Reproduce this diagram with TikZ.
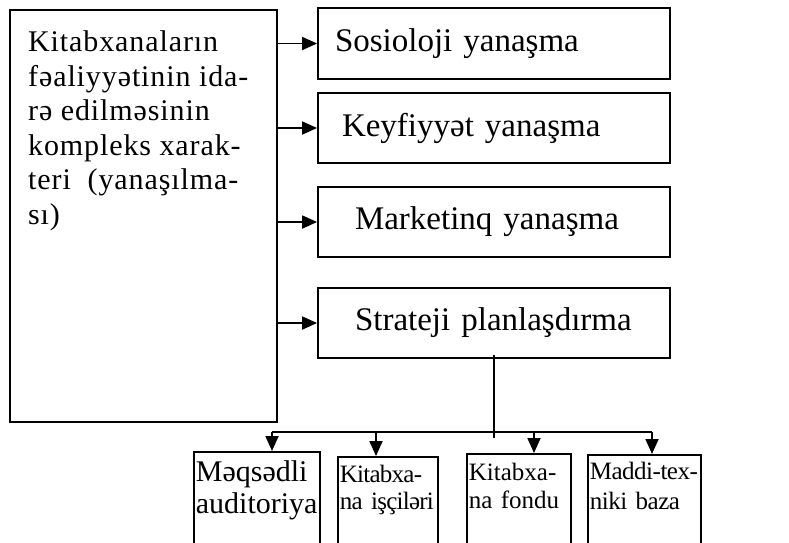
\documentclass[tikz,border=0pt]{standalone}
\usepackage{fontspec}
\setmainfont{Liberation Serif}
\newfontfamily\widefont[LetterSpace=3]{Liberation Serif}
\newfontfamily\tightfont[LetterSpace=-3]{Liberation Serif}
\newfontfamily\tighterfont[LetterSpace=-2]{Liberation Serif}
\usetikzlibrary{arrows.meta, calc}

\begin{document}
\begin{tikzpicture}[x=1pt, y=-1pt, box/.style={draw, line width=1.8pt, inner sep=0pt}, rbox/.style={box, minimum height=70.5pt, align=left, font=\fontsize{33}{38}\selectfont}, sbox/.style={box, anchor=north west, align=left, inner xsep=2pt, inner ysep=8.5pt, text depth=90pt}, arr/.style={-{Triangle[length=15pt,width=13pt]}, line width=1.8pt}]
        \useasboundingbox (0,0) rectangle (789,542);

        \node[box, anchor=north west, minimum width=267pt, minimum height=412pt] (main) at (9,9) {};
        \node[anchor=north west, align=left, inner sep=0pt, font=\widefont\fontsize{30}{34.5}\selectfont] (maintxt) at (28,30.5) {Kitabxanaların\\fəaliyyətinin ida-\\rə edilməsinin\\kompleks xarak-\\teri\ \ (yanaşılma-\\sı)};

        \node[rbox, inner xsep=17pt, text width=318pt] (sos) at (494,43.5) {Sosioloji yanaşma};
        \node[rbox, inner xsep=24pt, text width=304pt] (key) at (494,128) {Keyfiyyət yanaşma};
        \node[rbox, inner xsep=37pt, text width=278pt] (mark) at (494,222) {Marketinq yanaşma};
        \node[rbox, inner xsep=37pt, text width=278pt] (strat) at (494,323) {Strateji planlaşdırma};

        \node[sbox, text width=122pt, font=\fontsize{30}{32}\selectfont] (aud) at (193,451) {Məqsədli\\auditoriya};
        \node[sbox, inner ysep=8pt, text width=96pt, font=\tightfont\fontsize{25}{27.5}\selectfont] (isci) at (337,456) {Kitabxa-\\na işçiləri};
        \node[sbox, inner ysep=9pt, text width=100pt, font=\fontsize{25}{28}\selectfont] (fond) at (466,453) {Kitabxa-\\na fondu};
        \node[sbox, inner ysep=7pt, text width=109pt, font=\tighterfont\fontsize{25}{30}\selectfont] (tex) at (587,454) {Maddi-tex-\\niki baza};

        \foreach \n in {sos,key,mark,strat}
            \draw[arr] (main.east |- \n.west) -- (\n.west);

        \coordinate (d1) at (272,432);
        \coordinate (d2) at (376,432);
        \coordinate (d3) at (534,432);
        \coordinate (d4) at (652,432);
        \draw[line width=1.8pt] ([yshift=4pt]strat.south) -- ++(0,83);
        \draw[line width=1.8pt] (d1) -- (d4);
        \foreach \d/\b in {d1/aud, d2/isci, d3/fond, d4/tex}
            \draw[arr] (\d) -- (\d |- \b.north);
    \end{tikzpicture}
\end{document}
